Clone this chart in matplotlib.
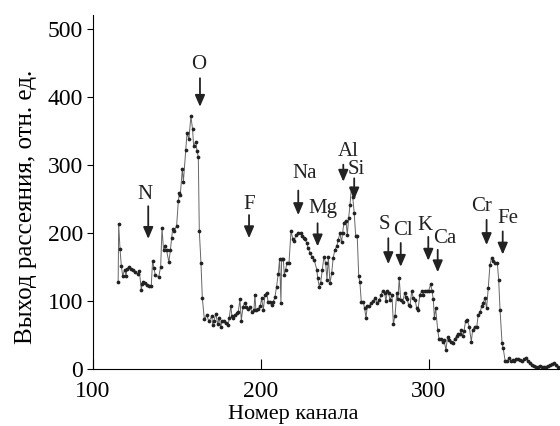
import matplotlib
matplotlib.use("Agg")
import matplotlib.pyplot as plt

plt.rcParams['font.family'] = ['Liberation Serif', 'DejaVu Serif']

# channel numbers and scattering yield
channel = [115.0, 115.3, 116.1, 116.9, 117.7, 118.9, 119.6, 120.4, 121.6, 122.8,
           124.0, 125.2, 126.8, 127.6, 128.8, 129.2, 129.9, 131.1, 132.3, 133.5,
           134.7, 135.5, 136.3, 137.1, 139.1, 140.3, 141.1, 142.0, 142.9, 143.8,
           145.2, 146.1, 146.8, 147.4, 148.4, 149.8, 150.8, 151.4, 152.0, 153.2,
           153.8, 155.2, 156.0, 157.1, 158.3, 159.3, 159.9, 161.3, 161.9, 162.7,
           163.3, 164.3, 165.1, 166.3, 167.7, 169.0, 170.7, 171.3, 172.0, 173.2,
           174.2, 175.2, 176.0, 177.0, 178.2, 179.2, 180.5, 181.1, 182.1, 182.7,
           183.5, 184.5, 185.5, 186.5, 187.5, 188.3, 189.3, 190.3, 191.3, 192.4,
           193.5, 194.6, 195.8, 196.4, 197.0, 198.4, 199.6, 200.4, 201.4, 202.4,
           203.4, 204.3, 205.2, 206.4, 207.3, 208.3, 209.3, 210.3, 211.1, 211.9,
           212.3, 213.3, 213.9, 214.7, 215.5, 216.7, 217.9, 218.9, 219.8, 220.7,
           222.2, 223.8, 224.6, 225.4, 226.2, 227.2, 228.2, 229.3, 230.5, 231.7,
           233.2, 233.8, 234.7, 235.5, 236.5, 237.5, 238.5, 239.3, 240.1, 241.1,
           242.1, 243.0, 244.0, 245.1, 246.0, 247.0, 248.0, 248.6, 249.4, 250.6,
           251.4, 252.2, 253.0, 253.8, 254.6, 255.5, 256.4, 257.3, 258.2, 258.9,
           259.7, 260.9, 261.7, 262.5, 263.3, 264.5, 265.7, 266.8, 268.0, 269.2,
           270.4, 271.6, 272.4, 273.6, 274.4, 275.2, 276.0, 276.8, 278.0, 278.8,
           279.8, 280.8, 281.5, 282.3, 283.2, 284.3, 285.5, 286.3, 287.1, 287.9,
           288.7, 289.7, 290.7, 291.8, 292.7, 293.5, 294.6, 295.8, 296.6, 297.4,
           298.6, 299.8, 301.0, 301.8, 302.6, 303.2, 304.0, 305.2, 306.0, 307.0,
           308.2, 308.9, 310.1, 311.1, 312.1, 313.1, 314.3, 315.3, 316.5, 317.3,
           318.5, 319.2, 320.1, 320.8, 321.8, 322.8, 324.0, 325.2, 326.0, 327.2,
           328.4, 329.3, 330.4, 331.5, 332.3, 333.3, 334.3, 335.3, 336.3, 337.3,
           338.3, 339.5, 340.7, 341.5, 342.3, 343.5, 344.2, 345.4, 346.6, 347.8,
           348.8, 349.8, 350.8, 351.8, 353.0, 354.2, 355.4, 356.5, 357.7, 358.9,
           360.1, 361.3, 362.5, 363.7, 364.9, 366.1, 367.3, 368.5, 369.6, 370.8,
           372.0, 373.2, 374.4, 375.6, 376.8]
counts = [127, 213, 176, 151, 137, 146, 137, 147, 150, 147,
          145, 142, 140, 144, 116, 125, 128, 126, 123, 122,
          122, 159, 148, 138, 135, 150, 207, 175, 180, 174,
          157, 175, 192, 205, 203, 210, 246, 258, 256, 294,
          274, 321, 347, 337, 371, 352, 328, 334, 320, 312,
          203, 155, 104, 73, 79, 70, 77, 65, 71, 81,
          66, 75, 62, 71, 70, 68, 65, 75, 93, 77,
          75, 79, 82, 84, 102, 71, 91, 97, 91, 88,
          91, 84, 86, 109, 86, 88, 92, 104, 87, 109,
          112, 98, 99, 94, 98, 105, 121, 140, 161, 97,
          161, 161, 138, 146, 156, 156, 203, 191, 188, 196,
          200, 199, 195, 192, 191, 185, 177, 170, 164, 160,
          146, 133, 121, 126, 145, 165, 155, 131, 164, 126,
          141, 163, 175, 180, 190, 199, 186, 200, 215, 218,
          197, 222, 241, 266, 253, 229, 195, 195, 136, 127,
          99, 99, 89, 75, 92, 92, 97, 100, 104, 97,
          101, 109, 115, 111, 100, 114, 111, 101, 109, 66,
          78, 111, 102, 133, 101, 98, 111, 106, 102, 94,
          92, 114, 104, 101, 89, 87, 109, 114, 109, 115,
          115, 115, 124, 115, 102, 75, 89, 57, 44, 44,
          39, 43, 28, 47, 43, 40, 38, 44, 48, 52,
          51, 57, 48, 55, 70, 72, 62, 40, 57, 62,
          61, 79, 83, 93, 97, 104, 89, 119, 153, 163,
          158, 156, 155, 131, 87, 38, 30, 11, 11, 16,
          11, 13, 11, 14, 14, 13, 11, 14, 16, 11,
          8, 6, 4, 3, 3, 4, 3, 3, 3, 4,
          6, 7, 8, 6, 3]

# element markers: label, arrow channel, arrow tail, arrow tip, label position
elements = ['N', 'O', 'F', 'Na', 'Mg', 'Al', 'Si', 'S', 'Cl', 'K', 'Ca', 'Cr', 'Fe']
arrow_x = [132.9, 163.7, 192.9, 222.2, 233.7, 249.0, 255.5, 275.8, 283.2, 299.6, 305.2, 334.3, 343.9]
arrow_top = [239, 427, 226, 262, 214, 300, 280, 192, 185, 194, 175, 219, 202]
arrow_tip = [191, 385, 192, 226, 180, 275, 249, 154, 150, 159, 142, 182, 168]
label_x = [131.0, 163.0, 192.9, 226.2, 236.7, 252.0, 256.5, 273.4, 284.7, 297.6, 309.5, 331.4, 347.2]
label_y = [256, 447, 241, 287, 236, 320, 293, 212, 203, 210, 192, 238, 221]

fig = plt.figure(figsize=(5.6, 4.26), dpi=100)
ax = fig.add_axes([0.166, 0.134, 0.834, 0.831])

ax.plot(channel, counts, '-', color='#666666', lw=0.7,
        marker='o', ms=1.7, mfc='#222222', mec='#222222')

for name, x, y0, y1, tx, ty in zip(elements, arrow_x, arrow_top, arrow_tip, label_x, label_y):
    ax.annotate('', xy=(x, y1), xytext=(x, y0),
                arrowprops=dict(arrowstyle='-|>,head_length=0.7,head_width=0.3',
                                color='#222222', lw=1.3, shrinkA=0, shrinkB=0))
    ax.text(tx, ty, name, fontsize=15, ha='center', va='center', color='#222222')

ax.set_xlim(100, 378)
ax.set_ylim(0, 520)
ax.set_xticks([100, 200, 300])
ax.set_yticks([0, 100, 200, 300, 400, 500])

ax.spines['top'].set_visible(False)
ax.spines['right'].set_visible(False)
ax.tick_params(axis='x', direction='in', length=7, pad=9, labelsize=17)
ax.tick_params(axis='y', direction='out', length=4, pad=3, labelsize=17)

ax.set_ylabel('Выход рассеяния, отн. ед.', fontsize=18)
ax.yaxis.set_label_coords(-0.12, 0.458)
ax.set_xlabel('Номер канала', fontsize=16)
ax.xaxis.set_label_coords(0.428, -0.103)

fig.savefig('out.png', dpi=100)
